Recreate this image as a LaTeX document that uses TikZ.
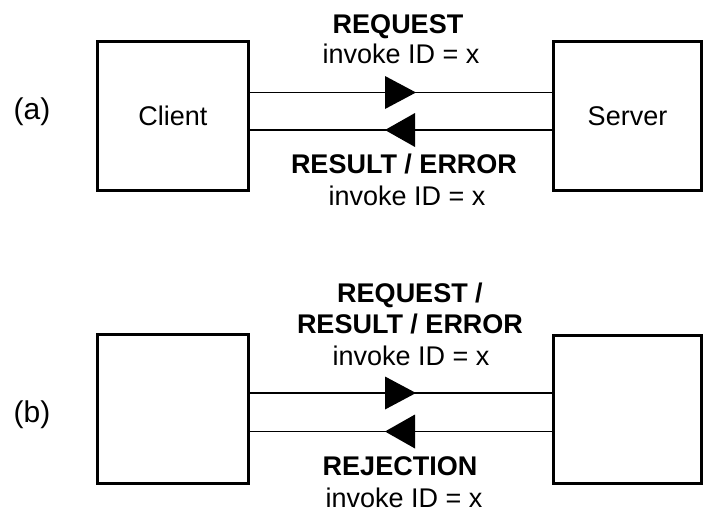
\documentclass[tikz,border=0pt]{standalone}
\usepackage{fontspec}
\setmainfont{Liberation Sans}
\usetikzlibrary{calc}
\begin{document}
\begin{tikzpicture}[x=1pt,y=-1pt,
  box/.style={draw, line width=3pt, inner sep=0pt,
    minimum height=148.5pt, font=\fontsize{27}{32}\selectfont},
  conn/.style={line width=1.8pt},
  head/.style={fill=black},
  txt/.style={anchor=base, inner sep=0pt, font=\fontsize{27}{32}\selectfont},
  btxt/.style={anchor=base, inner sep=0pt, font=\fontsize{27}{32}\selectfont\bfseries},
  tag/.style={inner sep=0pt, font=\fontsize{30}{36}\selectfont}]

\useasboundingbox (0,0) rectangle (704,522);

% ---------- (a) client / server ----------
\node[tag] (tagA) at (32,112) {(a)};
\node[box, minimum width=151pt] (c1) at (173,115.75) {Client};
\node[box, minimum width=148pt] (s1) at (627.5,115.75) {Server};

\coordinate (a1) at ([yshift=23.25pt]c1.east);
\coordinate (a2) at ([yshift=-14.25pt]c1.east);
\draw[conn] (a1) -- (a1 -| s1.west);
\draw[conn] (a2) -- (a2 -| s1.west);
\coordinate (ma1) at ($(a1)!0.5!(a1 -| s1.west)$);
\coordinate (ma2) at ($(a2)!0.5!(a2 -| s1.west)$);
\fill[head] (ma1) ++(-16,-16.5) -- ++(0,33) -- ++(31,-16.5) -- cycle;
\fill[head] (ma2) ++(14,-17) -- ++(0,34) -- ++(-30,-17) -- cycle;

\node[btxt] (reqA) at (398,33) {REQUEST};
\node[txt]  (idA1) at (401,63) {invoke ID = x};
\node[btxt] (resA) at (404,173) {RESULT / ERROR};
\node[txt]  (idA2) at (407,205) {invoke ID = x};

% ---------- (b) peer entities ----------
\node[tag] (tagB) at (32,415) {(b)};
\node[box, minimum width=151pt] (c2) at (173,408.75) {};
\node[box, minimum width=148pt] (s2) at (627.5,409.5) {};

\coordinate (b1) at ([yshift=15.75pt]c2.east);
\coordinate (b2) at ([yshift=-22.75pt]c2.east);
\draw[conn] (b1) -- (b1 -| s2.west);
\draw[conn] (b2) -- (b2 -| s2.west);
\coordinate (mb1) at ($(b1)!0.5!(b1 -| s2.west)$);
\coordinate (mb2) at ($(b2)!0.5!(b2 -| s2.west)$);
\fill[head] (mb1) ++(-16,-16.5) -- ++(0,33) -- ++(31,-16.5) -- cycle;
\fill[head] (mb2) ++(14,-17) -- ++(0,34) -- ++(-30,-17) -- cycle;

\node[btxt] (reqB) at (410,302) {REQUEST /};
\node[btxt] (resB) at (410,333) {RESULT / ERROR};
\node[txt]  (idB1) at (411,365) {invoke ID = x};
\node[btxt] (rejB) at (400,475) {REJECTION};
\node[txt]  (idB2) at (404,507) {invoke ID = x};
\end{tikzpicture}
\end{document}
